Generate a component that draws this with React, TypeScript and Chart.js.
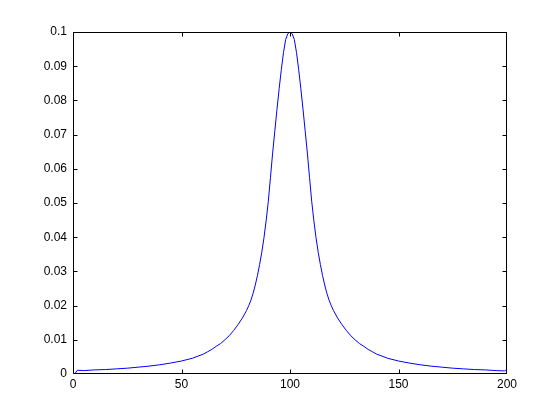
import React, { useEffect, useRef } from "react";
import { Chart, registerables } from "chart.js";

Chart.register(...registerables);

// x positions (sample index)
const xValues = [
  1, 2, 5, 10, 15, 20, 25, 30, 35, 40, 45, 50, 55, 60, 62, 64, 66, 68, 70, 72, 74, 76, 78, 80,
  81, 82, 83, 84, 85, 86, 87, 88, 89, 90, 91, 92, 93, 94, 95, 96, 97, 98, 99, 100,
  101, 102, 103, 104, 105, 106, 107, 108, 109, 110, 111, 112, 113, 114, 115, 116, 117, 118, 119, 120,
  122, 124, 126, 128, 130, 132, 134, 136, 138, 140, 145, 150, 155, 160, 165, 170, 175, 180, 185, 190, 195, 199, 200,
];

// y values
const yValues = [
  0.0002, 0.0011, 0.0010, 0.0012, 0.0013, 0.0015, 0.0017, 0.0020, 0.0023, 0.0027, 0.0032, 0.0038, 0.0046, 0.0058,
  0.0065, 0.0072, 0.0081, 0.0089, 0.0100, 0.0112, 0.0127, 0.0144, 0.0163, 0.0186,
  0.0200, 0.0216, 0.0236, 0.0260, 0.0288, 0.0320, 0.0356, 0.0398, 0.0448, 0.0505, 0.0575, 0.0646, 0.0710, 0.0774,
  0.0834, 0.0890, 0.0940, 0.0978, 0.0995, 0.1000,
  0.0995, 0.0978, 0.0940, 0.0890, 0.0834, 0.0774, 0.0710, 0.0646, 0.0575, 0.0505, 0.0448, 0.0398, 0.0356, 0.0320,
  0.0288, 0.0260, 0.0236, 0.0216, 0.0200, 0.0186,
  0.0163, 0.0144, 0.0127, 0.0112, 0.0100, 0.0089, 0.0081, 0.0072, 0.0065, 0.0058, 0.0046, 0.0038, 0.0032, 0.0027,
  0.0023, 0.0020, 0.0017, 0.0015, 0.0013, 0.0012, 0.0010, 0.0009, 0.0015,
];

const xTicks = [0, 50, 100, 150, 200];
const yTicks = [0, 0.01, 0.02, 0.03, 0.04, 0.05, 0.06, 0.07, 0.08, 0.09, 0.1];

const FONT = "'Liberation Sans', Arial, Helvetica, sans-serif";

const boxPlugin = {
  id: "matlabBox",
  afterDraw(chart: any) {
    const { ctx, chartArea: a, scales } = chart;
    ctx.save();
    ctx.strokeStyle = "#000";
    ctx.lineWidth = 1;
    const L = Math.round(a.left) + 0.5;
    const R = Math.round(a.right) - 0.5;
    const T = Math.round(a.top) + 0.5;
    const B = Math.round(a.bottom) - 0.5;
    const tl = 4;
    ctx.beginPath();
    ctx.rect(L, T, R - L, B - T);
    for (const v of xTicks) {
      let px = Math.round(scales.x.getPixelForValue(v)) + 0.5;
      px = Math.min(Math.max(px, L), R);
      ctx.moveTo(px, B);
      ctx.lineTo(px, B - tl);
      ctx.moveTo(px, T);
      ctx.lineTo(px, T + tl);
    }
    for (const v of yTicks) {
      let py = Math.round(scales.y.getPixelForValue(v)) + 0.5;
      py = Math.min(Math.max(py, T), B);
      ctx.moveTo(L, py);
      ctx.lineTo(L + tl, py);
      ctx.moveTo(R, py);
      ctx.lineTo(R - tl, py);
    }
    ctx.stroke();
    ctx.restore();
  },
};

export default function App() {
  const canvasRef = useRef<HTMLCanvasElement | null>(null);

  useEffect(() => {
    const canvas = canvasRef.current;
    if (!canvas) return;
    const chart = new Chart(canvas, {
      type: "line",
      data: {
        datasets: [
          {
            data: xValues.map((x, i) => ({ x, y: yValues[i] })),
            borderColor: "#0000ff",
            borderWidth: 1,
            pointRadius: 0,
            tension: 0,
            fill: false,
          },
        ],
      },
      options: {
        responsive: false,
        animation: false,
        events: [],
        layout: { padding: { left: 0, top: 32, right: 53, bottom: 0 } },
        plugins: {
          legend: { display: false },
          tooltip: { enabled: false },
        },
        scales: {
          x: {
            type: "linear",
            min: 0,
            max: 200,
            grid: { display: false, drawTicks: false },
            border: { display: false },
            afterBuildTicks: (scale: any) => {
              scale.ticks = xTicks.map((v) => ({ value: v }));
            },
            afterFit: (scale: any) => {
              scale.height = 46;
            },
            ticks: {
              color: "#000",
              padding: 3,
              maxRotation: 0,
              autoSkip: false,
              font: { family: FONT, size: 12 },
              callback: (v: any) => String(v),
            },
          },
          y: {
            type: "linear",
            min: 0,
            max: 0.1,
            grid: { display: false, drawTicks: false },
            border: { display: false },
            afterBuildTicks: (scale: any) => {
              scale.ticks = yTicks.map((v) => ({ value: v }));
            },
            afterFit: (scale: any) => {
              scale.width = 73;
            },
            ticks: {
              color: "#000",
              padding: 6,
              autoSkip: false,
              font: { family: FONT, size: 12 },
              callback: (v: any) => String(Number(Number(v).toFixed(2))),
            },
          },
        },
      },
      plugins: [boxPlugin],
    });
    return () => chart.destroy();
  }, []);

  return (
    <div style={{ position: "absolute", left: 0, top: 0, width: 560, height: 420, background: "#fff" }}>
      <canvas ref={canvasRef} width={560} height={420} style={{ display: "block" }} />
    </div>
  );
}
